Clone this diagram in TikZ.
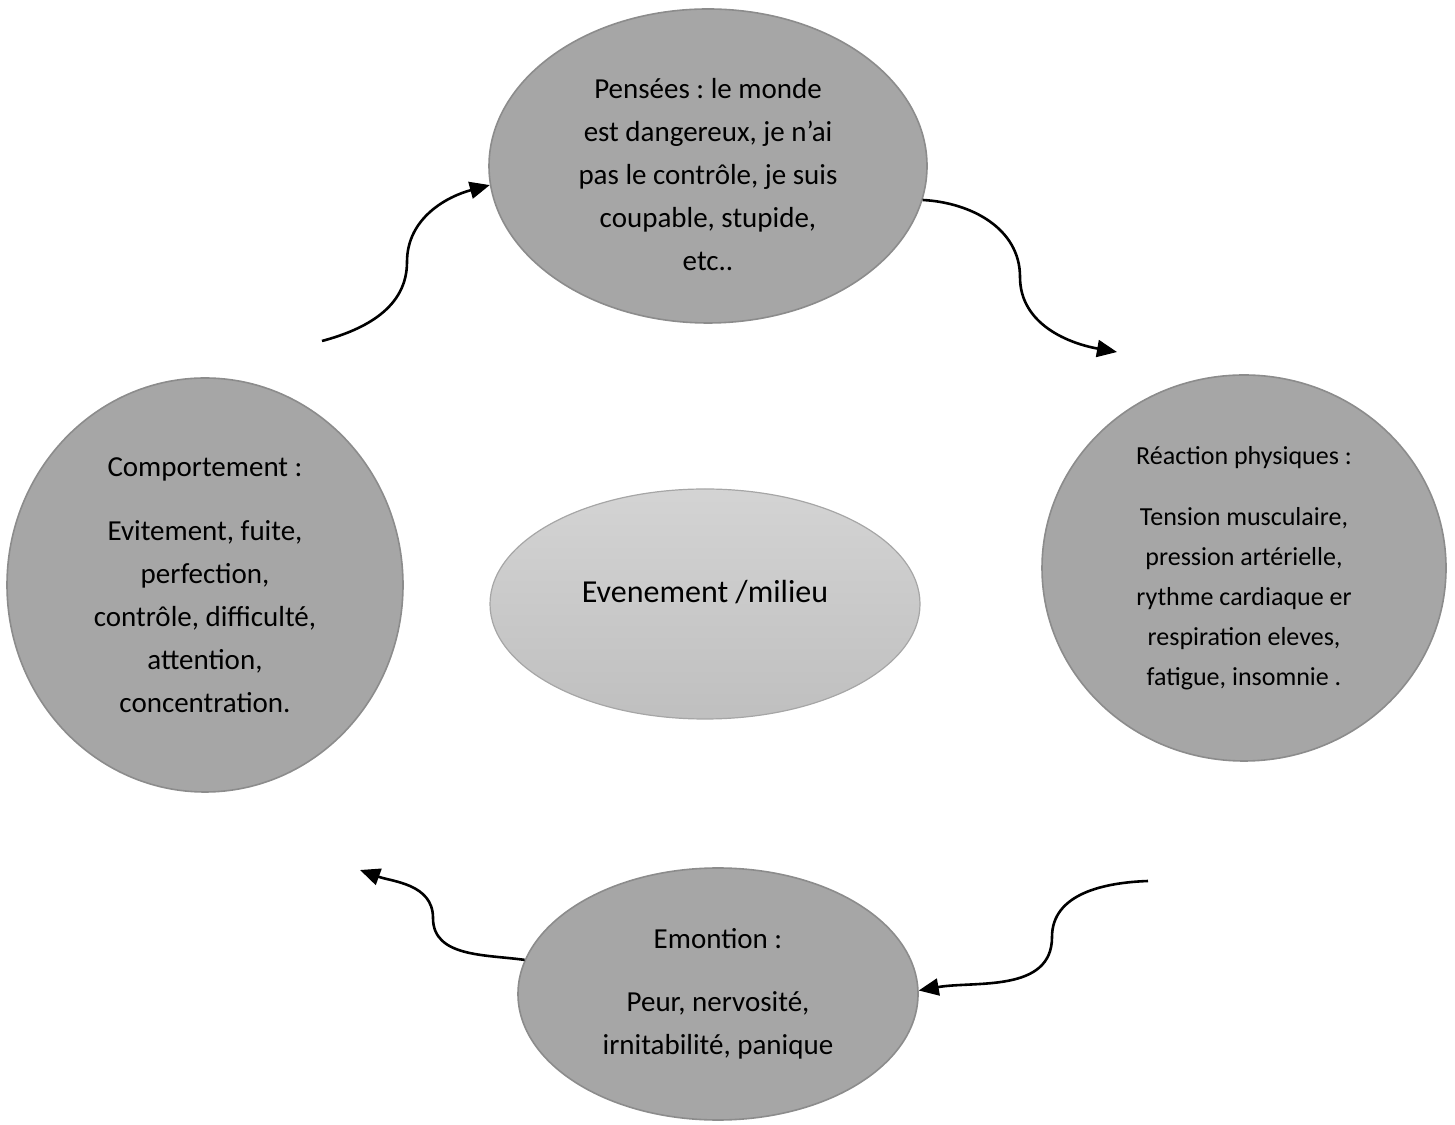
\documentclass[tikz,border=0pt]{standalone}
\usepackage{fontspec}
\setmainfont{Carlito}
\usepackage{xcolor}
\usetikzlibrary{shapes.geometric,arrows.meta}
\definecolor{bubblegray}{HTML}{A6A6A6}
\definecolor{rimgray}{HTML}{8C8C8C}
\frenchspacing

\begin{document}
\begin{tikzpicture} [
    x = 0.5pt, y = 0.5pt,
    bubble/.style = { ellipse, draw = rimgray, line width = 0.8pt, fill = bubblegray,
      inner sep = 0, align = center, font = \fontsize{14.5}{21.5}\selectfont },
    flow/.style = { line width = 1.3pt, -{Triangle[length = 10pt, width = 8.5pt]} }
    ]

    \useasboundingbox (0,0) rectangle (1455,1124);

    % the four stages around the cycle
    \node [bubble, minimum width = 219pt, minimum height = 157pt] (pensees) at (708,958) {};
    \node [align = center, font = \fontsize{14.5}{21.5}\selectfont] (penseestext) at (708,949)
      {Pensées : le monde\\ est dangereux, je n’ai\\ pas le contrôle, je suis\\ coupable, stupide,\\ etc..};
    \node [bubble, minimum width = 202pt, minimum height = 193pt, font = \fontsize{13}{20}\selectfont] (reaction) at (1244,556)
      {Réaction physiques :\\[10.5pt] Tension musculaire,\\ pression artérielle,\\ rythme cardiaque er\\ respiration eleves,\\ fatigue, insomnie .};
    \node [bubble, minimum width = 200pt, minimum height = 126pt] (emotion) at (718,130)
      {Emontion :\\[10pt] Peur, nervosité,\\ irnitabilité, panique};
    \node [bubble, minimum width = 198pt, minimum height = 207pt] (comport) at (205,539)
      {Comportement :\\[10.5pt] Evitement, fuite,\\ perfection,\\ contrôle, difficulté,\\ attention,\\ concentration.};

    % the event in the middle
    \node [ellipse, draw = gray!70, line width = 0.6pt, top color = gray!34, bottom color = gray!50,
      minimum width = 215pt, minimum height = 115pt] (event) at (705,520) {};
    \node [font = \fontsize{16}{19}\selectfont] (eventtext) at (705,532) {Evenement /milieu};

    \coordinate (c1) at (322,783);
    \coordinate (c2) at (1117,772);
    \coordinate (c3) at (1148,243);
    \coordinate (c4) at (360,254);

    \draw [flow] (c1) to [out = 15, in = -90] (407,862) to [out = 90, in = 195] (pensees.185);
    \draw [flow] (pensees.351) to [out = -3, in = 90] (1020,847) to [out = -90, in = 170] (c2);
    \draw [flow] (c3) to [out = 182, in = 90] (1052,187) to [out = -90, in = 10] (emotion.1);
    \draw [flow] (emotion.170) to [out = 172, in = -90] (433,206) to [out = 90, in = -20] (c4);
\end{tikzpicture}
\end{document}
